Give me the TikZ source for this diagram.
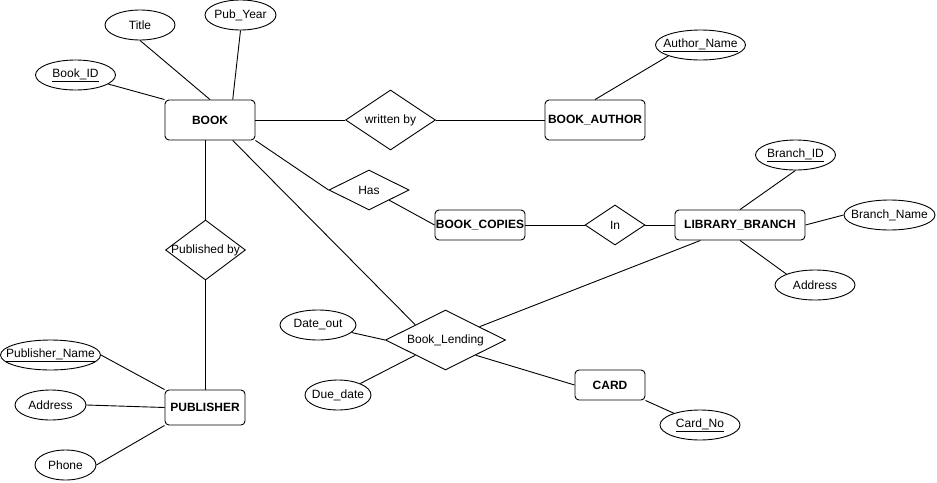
\documentclass[tikz,border=0pt]{standalone}
\usepackage{fontspec}
\setmainfont{Liberation Sans}
\usetikzlibrary{shapes.geometric,calc}
\newcommand\zw[1]{\makebox[0pt]{#1}}
\begin{document}
\begin{tikzpicture}[x=1pt,y=-1pt,
  font=\fontsize{12}{14}\selectfont,
  every node/.style={inner sep=0pt, line width=0.9pt},
  conn/.style={draw, line width=0.9pt},
  attr/.style={ellipse, draw, minimum width=#1, minimum height=30pt},
  rel/.style={diamond, draw},
  ent/.style={rectangle, draw, rounded corners=4pt, font=\fontsize{12}{14}\selectfont\bfseries}]
\useasboundingbox (0,0) rectangle (937,482);
% entities
\node[ent, minimum width=90pt, minimum height=40pt] (book) at (210,120) {BOOK};
\node[ent, minimum width=100pt, minimum height=40pt] (bauthor) at (595,120) {BOOK\_AUTHOR};
\node[ent, minimum width=90pt, minimum height=30pt] (bcopies) at (480,225) {BOOK\_COPIES};
\node[ent, minimum width=130pt, minimum height=30pt] (lb) at (740,225) {LIBRARY\_BRANCH};
\node[ent, minimum width=80pt, minimum height=35pt] (pub) at (205,407.5) {PUBLISHER};
\node[ent, minimum width=70pt, minimum height=30pt] (card) at (610,385) {CARD};
% relationships
\node[rel, minimum width=90pt, minimum height=60pt] (wby) at (390.5,120) {\zw{written by}};
\node[rel, minimum width=80pt, minimum height=40pt] (has) at (369,190) {\zw{Has}};
\node[rel, minimum width=60pt, minimum height=40pt] (in) at (615,225) {\zw{In}};
\node[rel, minimum width=120pt, minimum height=60pt] (bl) at (445.5,340) {\zw{Book\_Lending}};
\node[rel, minimum width=80pt, minimum height=60pt] (pby) at (205.5,250) {\zw{Published by}};
% attributes
\node[attr=70pt] (title) at (140,25) {\zw{Title}};
\node[attr=71pt] (pyear) at (240.5,15) {\zw{Pub\_Year}};
\node[attr=80pt] (bookid) at (75.5,75) {\zw{\underline{Book\_ID}}};
\node[attr=90pt] (aname) at (700.5,45) {\zw{\underline{Author\_Name}}};
\node[attr=80pt] (brid) at (795.5,155) {\zw{\underline{Branch\_ID}}};
\node[attr=91pt] (brname) at (889.5,215) {\zw{Branch\_Name}};
\node[attr=80pt] (braddr) at (815,285) {\zw{Address}};
\node[attr=76pt] (dout) at (318,325) {\zw{Date\_out}};
\node[attr=66pt] (ddate) at (338,395) {\zw{Due\_date}};
\node[attr=80pt] (cardno) at (700,425) {\zw{\underline{Card\_No}}};
\node[attr=100pt] (pname) at (50.5,355) {\zw{\underline{Publisher\_Name}}};
\node[attr=71pt] (paddr) at (50.5,405) {\zw{Address}};
\node[attr=61pt] (phone) at (65.5,465) {\zw{Phone}};
% connectors
\draw[conn] (bookid) -- (book.north west);
\draw[conn] (title.south) -- (book.north);
\draw[conn] (pyear.south) -- ($(book.north west)!0.75!(book.north east)$);
\draw[conn] (book.east) -- (wby.west);
\draw[conn] (wby.east) -- (bauthor.west);
\draw[conn] (aname.south west) -- (bauthor.north);
\draw[conn] (book.south east) -- (has.west);
\draw[conn] ($(has.south)!0.5!(has.east)$) -- (bcopies.west);
\draw[conn] (bcopies.east) -- (in.west);
\draw[conn] (in.east) -- (lb.west);
\draw[conn] (lb.north) -- (brid.south);
\draw[conn] (lb.east) -- (brname.west);
\draw[conn] (lb.south) -- (braddr.north west);
\draw[conn] (lb) -- (bl);
\draw[conn] ($(book.south west)!0.75!(book.south east)$) -- ($(bl.north)!0.5!(bl.west)$);
\draw[conn] (dout) -- (bl.west);
\draw[conn] (ddate) -- ($(bl.south)!0.5!(bl.west)$);
\draw[conn] ($(bl.south)!0.5!(bl.east)$) -- (card.west);
\draw[conn] (card.south east) -- (cardno);
\draw[conn] (pby.north) -- (pby.north |- book.south);
\draw[conn] (pby.south) -- (pby.south |- pub.north);
\draw[conn] (pname.east) -- (pub.north west);
\draw[conn] (paddr.east) -- (pub.west);
\draw[conn] (phone.east) -- (pub.south west);
\end{tikzpicture}
\end{document}
